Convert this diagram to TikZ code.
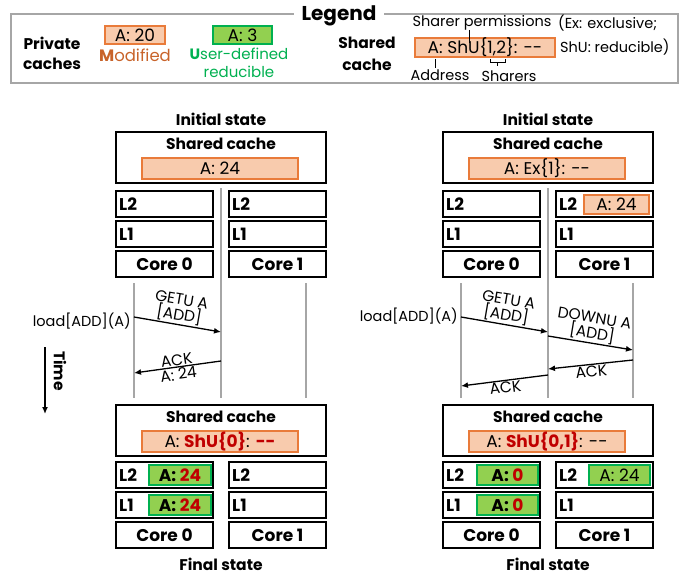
\documentclass[tikz,border=0pt]{standalone}
\usepackage{fontspec}
\setmainfont{Poppins}
\usetikzlibrary{arrows.meta}
\definecolor{peach}{HTML}{F8CBAD}
\definecolor{orng}{HTML}{E97B3A}
\definecolor{modc}{HTML}{C8632A}
\definecolor{gfill}{HTML}{92D050}
\definecolor{gline}{HTML}{00B050}
\definecolor{dred}{HTML}{C00000}
\definecolor{tgray}{HTML}{A6A6A6}
\newcommand\bx[7]{\node[#6, minimum width={#4-#2}, minimum height={#5-#3}] (#1) at ({(#2+#4)/2},{(#3+#5)/2}) {#7};}
\newcommand\rb[1]{{\bfseries\color{dred}#1}}
\tikzset{
  cell/.style={draw, line width=1.6pt, inner sep=0pt, font=\fontsize{17}{19}\selectfont\bfseries},
  obox/.style={draw=orng, fill=peach, line width=1.3pt, inner sep=0pt, font=\fontsize{17}{19}\selectfont},
  gbox/.style={draw=gline, fill=gfill, line width=1.3pt, inner sep=0pt, font=\fontsize{17}{19}\selectfont},
  hdr/.style={font=\fontsize{15.5}{17}\selectfont\bfseries, inner sep=0pt},
  lvl/.style={font=\fontsize{17}{19}\selectfont\bfseries, inner sep=0pt, anchor=west},
  txt/.style={font=\fontsize{14.5}{16}\selectfont, inner sep=0pt},
  mtxt/.style={font=\fontsize{15.5}{15.5}\selectfont, inner sep=1pt, align=center, sloped},
  tline/.style={draw=tgray, line width=1.6pt},
  msg/.style={-{Latex[length=7pt,width=6pt]}, line width=1.3pt},
}
\begin{document}
\begin{tikzpicture}[x=1pt,y=-1pt]
\useasboundingbox (0,0) rectangle (694,578);
% ---------------- Legend ----------------
\draw[tgray, line width=1.2pt] (11,14) rectangle (678,83);
\node[font=\fontsize{20}{22}\selectfont\bfseries, fill=white, inner xsep=8pt, inner ysep=1pt] (leg) at (339,16) {Legend};
\node[hdr, align=center, font=\fontsize{15.5}{20}\selectfont\bfseries] (pc) at (52,53) {Private\\caches};
\bx{lgo}{105}{26}{165}{44}{obox}{A: 20}
\node[txt, text=modc, font=\fontsize{16.5}{18}\selectfont] (lgmod) at (135,55) {{\bfseries M}odified};
\bx{lgg}{213}{26}{272}{44}{gbox}{A: 3}
\node[txt, text=gline, align=center, font=\fontsize{15}{18}\selectfont] (lgud) at (239,63) {{\bfseries U}ser-defined\\reducible};
\node[hdr, align=center, font=\fontsize{15.5}{22}\selectfont\bfseries] (lgsc) at (367,54) {Shared\\cache};
\node[txt] (lgsp) at (482,23) {Sharer permissions};
\node[txt, anchor=west] (lgex) at (558,23) {(Ex: exclusive;};
\node[txt, anchor=west] (lgshu) at (560,47) {ShU: reducible)};
\bx{lgs}{415}{38}{555}{57}{obox}{A: ShU\{1,2\}: -{}-}
\node[txt] (lgad) at (440,75) {Address};
\node[txt] (lgsh) at (509,76) {Sharers};
\coordinate (spa) at (469,30); \coordinate (spb) at (469,43);
\draw[line width=0.8pt] (spa) -- (spb);
\coordinate (ada) at (435,59); \coordinate (adb) at (435,68);
\draw[line width=0.8pt] (ada) -- (adb);
\coordinate (bra) at (490,59); \coordinate (brb) at (505,59); \coordinate (brc) at (497.5,66);
\draw[line width=0.8pt] (bra) -- ++(0,3) -| (brb) (brc) -- ++(0,-4);
% ---------------- Left diagram ----------------
\node[hdr] (lti) at (221,119) {Initial state};
\bx{lsc}{116}{132}{326}{183}{cell}{}
\node[hdr] (lsct) at (221,144) {Shared cache};
\bx{lsca}{142}{158}{298}{179}{obox}{A: 24}
\bx{ll2a}{116}{191}{213}{217}{cell}{}
\node[lvl] (ll2at) at (119,204) {L2};
\bx{ll1a}{116}{221}{213}{247}{cell}{}
\node[lvl] (ll1at) at (119,234) {L1};
\bx{lc0}{116}{251}{213}{277}{cell}{Core 0}
\bx{ll2b}{229}{191}{326}{217}{cell}{}
\node[lvl] (ll2bt) at (232,204) {L2};
\bx{ll1b}{229}{221}{326}{247}{cell}{}
\node[lvl] (ll1bt) at (232,234) {L1};
\bx{lc1}{229}{251}{326}{277}{cell}{Core 1}
\coordinate (la0) at (134,283); \coordinate (lb0) at (134,398);
\coordinate (la1) at (221,188); \coordinate (lb1) at (221,398);
\coordinate (la2) at (306,283); \coordinate (lb2) at (306,398);
\draw[tline] (la0) -- (lb0); \draw[tline] (la1) -- (lb1); \draw[tline] (la2) -- (lb2);
\node[txt, anchor=east] (lload) at (131,321) {load[ADD](A)};
\coordinate (lm1s) at (134,317); \coordinate (lm1e) at (221,332);
\coordinate (lm2s) at (221,361); \coordinate (lm2e) at (134,373);
\draw[msg] (lm1s) -- node[mtxt, above] {GETU A\\{}[ADD]} (lm1e);
\draw[msg] (lm2s) -- node[mtxt, above] {ACK} node[mtxt, below] {A: 24} (lm2e);
\coordinate (tma) at (45,347); \coordinate (tmb) at (45,414);
\draw[msg] (tma) -- (tmb);
\node[hdr, rotate=-90] (time) at (60,371) {Time};
\bx{lfsc}{116}{405}{326}{456}{cell}{}
\node[hdr] (lfsct) at (221,417) {Shared cache};
\bx{lfsca}{142}{431}{298}{452}{obox}{A: \rb{ShU\{0\}}: \rb{-{}-}}
\bx{lfl2a}{116}{462}{213}{488}{cell}{}
\node[lvl] (lfl2at) at (119,475) {L2};
\bx{lfg2}{149}{465}{211}{485}{gbox}{\bfseries A: \rb{24}}
\bx{lfl1a}{116}{492}{213}{518}{cell}{}
\node[lvl] (lfl1at) at (119,505) {L1};
\bx{lfg1}{149}{495}{211}{515}{gbox}{\bfseries A: \rb{24}}
\bx{lfc0}{116}{522}{213}{548}{cell}{Core 0}
\bx{lfl2b}{229}{462}{326}{488}{cell}{}
\node[lvl] (lfl2bt) at (232,475) {L2};
\bx{lfl1b}{229}{492}{326}{518}{cell}{}
\node[lvl] (lfl1bt) at (232,505) {L1};
\bx{lfc1}{229}{522}{326}{548}{cell}{Core 1}
\node[hdr] (lfin) at (221,564) {Final state};
% ---------------- Right diagram ----------------
\node[hdr] (rti) at (548,119) {Initial state};
\bx{rsc}{443}{132}{653}{183}{cell}{}
\node[hdr] (rsct) at (548,144) {Shared cache};
\bx{rsca}{469}{158}{625}{179}{obox}{A: Ex\{1\}: -{}-}
\bx{rl2a}{443}{191}{540}{217}{cell}{}
\node[lvl] (rl2at) at (446,204) {L2};
\bx{rl1a}{443}{221}{540}{247}{cell}{}
\node[lvl] (rl1at) at (446,234) {L1};
\bx{rc0}{443}{251}{540}{277}{cell}{Core 0}
\bx{rl2b}{556}{191}{653}{217}{cell}{}
\node[lvl] (rl2bt) at (559,204) {L2};
\bx{rl2bo}{584}{195}{649}{214}{obox}{A: 24}
\bx{rl1b}{556}{221}{653}{247}{cell}{}
\node[lvl] (rl1bt) at (559,234) {L1};
\bx{rc1}{556}{251}{653}{277}{cell}{Core 1}
\coordinate (ra0) at (461,283); \coordinate (rb0) at (461,398);
\coordinate (ra1) at (548,188); \coordinate (rb1) at (548,398);
\coordinate (ra2) at (633,283); \coordinate (rb2) at (633,398);
\draw[tline] (ra0) -- (rb0); \draw[tline] (ra1) -- (rb1); \draw[tline] (ra2) -- (rb2);
\node[txt, anchor=east] (rload) at (458,316) {load[ADD](A)};
\coordinate (rm1s) at (461,317); \coordinate (rm1e) at (548,332);
\coordinate (rm2s) at (548,336); \coordinate (rm2e) at (633,350);
\coordinate (rm3s) at (633,360); \coordinate (rm3e) at (548,369);
\coordinate (rm4s) at (548,375); \coordinate (rm4e) at (461,386);
\draw[msg] (rm1s) -- node[mtxt, above] {GETU A\\{}[ADD]} (rm1e);
\draw[msg] (rm2s) -- node[mtxt, above] {DOWNU A\\{}[ADD]} (rm2e);
\draw[msg] (rm3s) -- node[mtxt, below] {ACK} (rm3e);
\draw[msg] (rm4s) -- node[mtxt, below] {ACK} (rm4e);
\bx{rfsc}{443}{405}{653}{456}{cell}{}
\node[hdr] (rfsct) at (548,417) {Shared cache};
\bx{rfsca}{469}{431}{625}{452}{obox}{A: \rb{ShU\{0,1\}}: -{}-}
\bx{rfl2a}{443}{462}{540}{488}{cell}{}
\node[lvl] (rfl2at) at (446,475) {L2};
\bx{rfg2}{477}{465}{538}{485}{gbox}{\bfseries A: \rb{0}}
\bx{rfl1a}{443}{492}{540}{518}{cell}{}
\node[lvl] (rfl1at) at (446,505) {L1};
\bx{rfg1}{477}{495}{538}{515}{gbox}{\bfseries A: \rb{0}}
\bx{rfc0}{443}{522}{540}{548}{cell}{Core 0}
\bx{rfl2b}{556}{462}{653}{488}{cell}{}
\node[lvl] (rfl2bt) at (559,475) {L2};
\bx{rfg2b}{589}{465}{650}{485}{gbox}{A: 24}
\bx{rfl1b}{556}{492}{653}{518}{cell}{}
\node[lvl] (rfl1bt) at (559,505) {L1};
\bx{rfc1}{556}{522}{653}{548}{cell}{Core 1}
\node[hdr] (rfin) at (548,564) {Final state};
\end{tikzpicture}
\end{document}
